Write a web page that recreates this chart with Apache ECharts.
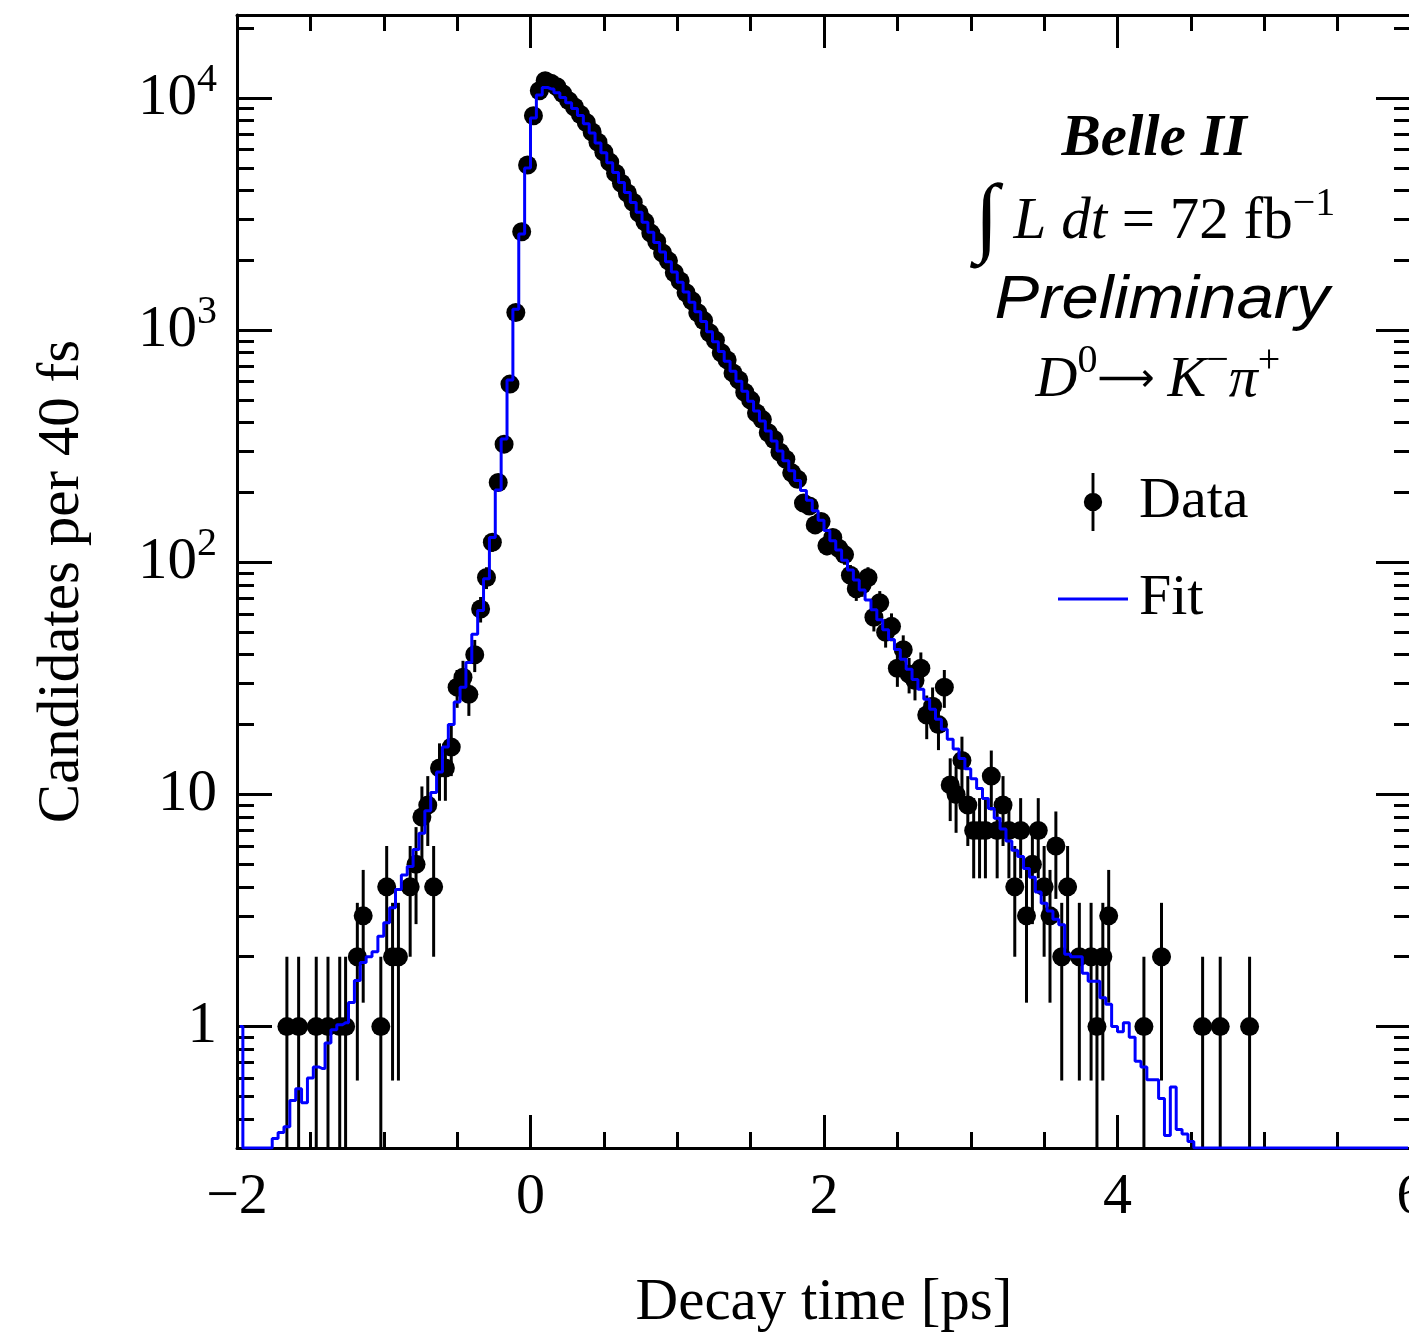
<!DOCTYPE html>
<html><head><meta charset="utf-8">
<script src="https://cdn.jsdelivr.net/npm/echarts@6/dist/echarts.min.js"></script>
<style>html,body{margin:0;padding:0;background:#fff;overflow:hidden;width:1409px;height:1337px}#chart{width:1440px;height:1337px}</style>
</head><body><div id="chart"></div>
<script>
// ---- binning (40 fs bins from -2 ps to 6 ps) ----
const binStart = -2;
const binWidth = 0.04;

// ---- data: candidates per bin ----
const counts = [
  0,0,0,0,0,0,0,0,1,0,
  1,0,0,1,0,1,0,1,1,0,
  2,3,0,0,1,4,2,2,0,4,
  5,8,9,4,13,13,16,29,32,27,
  40,63,86,122,221,323,586,1192,2654,5145,
  8390,10750,11870,11600,11200,10450,9750,9150,8500,7850,
  7150,6450,5850,5300,4750,4300,3900,3560,3200,2930,
  2620,2410,2150,1990,1770,1630,1450,1340,1190,1100,
  975,905,800,745,655,610,540,500,440,412,
  362,338,298,278,243,228,180,175,145,150,
  118,128,115,108,88,77,80,86,58,67,
  50,53,35,42,33,31,35,22,24,20,
  29,11,10,14,9,7,7,7,12,7,
  9,7,4,7,3,5,7,4,3,6,
  2,4,0,2,0,2,1,2,3,0,
  0,0,0,0,1,0,0,2,0,0,
  0,0,0,0,1,0,0,1,0,0,
  0,0,1,0,0,0,0,0,0,0,
  0,0,0,0,0,0,0,0,0,0,
  0,0,0,0,0,0,0,0,0,0
];

// ---- fit: expected candidates per bin ----
const fitValues = [
  1.0,0.3,0.3,0.3,0.3,0.3,0.33,0.35,0.37,0.48,
  0.54,0.47,0.6,0.67,0.66,0.85,0.97,1.02,1.04,1.27,
  1.58,1.89,2.0,2.1,2.45,2.8,3.25,3.9,4.5,4.9,
  5.8,6.8,8.5,10.2,12.5,16,20,25,29,37,
  49,62,85,128,205,340,610,1230,2600,5000,
  8200,10300,11100,10950,10550,10050,9550,9020,8410,7760,
  7080,6410,5810,5270,4780,4330,3920,3550,3220,2920,
  2640,2390,2170,1970,1780,1610,1460,1320,1200,1090,
  986,893,809,735,665,603,546,494,449,406,
  368,333,302,274,248,225,204,185,167,152,
  137,124,113,102,92.7,84,76,68.9,62.5,56.6,
  51.3,46.5,42.1,38.2,34.6,31.3,28.4,25.7,23.3,21.1,
  19.1,17.3,15.7,14.3,12.9,11.7,10.6,9.6,8.7,7.9,
  7.1,6.3,5.75,5.4,4.8,4.4,3.8,3.4,3.15,2.9,
  2.75,2.05,2.0,2.0,1.7,1.57,1.57,1.33,1.25,1.0,
  0.95,1.04,0.9,0.71,0.67,0.59,0.59,0.49,0.34,0.55,
  0.36,0.345,0.32,0.3,0.3,0.3,0.3,0.3,0.3,0.3,
  0.3,0.3,0.3,0.3,0.3,0.3,0.3,0.3,0.3,0.3,
  0.3,0.3,0.3,0.3,0.3,0.3,0.3,0.3,0.3,0.3,
  0.3,0.3,0.3,0.3,0.3,0.3,0.3,0.3,0.3,0.3
];

// ---- axes ----
const xMin = -2, xMax = 6, xMajorStep = 2;
const yMin = 0.3, yMax = 22800;
const yMajorTicks = [1, 10, 100, 1000, 10000];
const yMinorTicks = [0.4,0.5,0.6,0.7,0.8,0.9, 2,3,4,5,6,7,8,9, 20,30,40,50,60,70,80,90,
  200,300,400,500,600,700,800,900, 2000,3000,4000,5000,6000,7000,8000,9000, 20000];

const serif = "'Liberation Serif','Times New Roman',serif";
const sans = "'Liberation Sans',Arial,sans-serif";
const black = '#000';
const axisLine = {color: black, width: 3};

const binCenter = i => +(binStart + binWidth * (i + 0.5)).toFixed(3);
const dataPoints = counts.map((n, i) => [binCenter(i), n]).filter(d => d[1] > 0);
const fitPoints = fitValues.map((f, i) => [binCenter(i), f]);

function xLabel(v) { return v < 0 ? '\u2212' + (-v) : String(v); }
function yLabel(v) {
  const e = Math.round(Math.log10(v));
  if (e === 0) return '1';
  if (e === 1) return '10';
  return '{b|10}{s|' + e + '}';
}

const xBase = {
  type: 'value', min: xMin, max: xMax, interval: xMajorStep,
  axisLine: {show: true, onZero: false, lineStyle: axisLine},
  axisTick: {show: true, inside: true, length: 33, lineStyle: axisLine},
  minorTick: {show: true, splitNumber: 4, length: 16, lineStyle: axisLine},
  splitLine: {show: false}, minorSplitLine: {show: false}
};
const yBase = {
  type: 'log', min: yMin, max: yMax,
  splitLine: {show: false}, minorTick: {show: false}, minorSplitLine: {show: false}
};

const chart = echarts.init(document.getElementById('chart'));
chart.setOption({
  animation: false,
  backgroundColor: '#fff',
  textStyle: {fontFamily: serif},
  grid: {left: 237, right: 29, top: 15, bottom: 189, containLabel: false, outerBoundsMode: 'none'},
  xAxis: [
    Object.assign({}, xBase, {
      position: 'bottom',
      axisLabel: {show: true, margin: 21, fontFamily: serif, fontSize: 58, color: black, formatter: xLabel},
      name: 'Decay time [ps]', nameLocation: 'middle', nameGap: 126,
      nameTextStyle: {fontFamily: serif, fontSize: 59, color: black}
    }),
    Object.assign({}, xBase, {position: 'top', axisLabel: {show: false}})
  ],
  yAxis: [
    Object.assign({}, yBase, {
      position: 'left',
      axisLine: {show: true, onZero: false, lineStyle: axisLine},
      axisTick: {show: true, inside: true, length: 35, customValues: yMajorTicks, lineStyle: axisLine},
      axisLabel: {show: true, customValues: yMajorTicks, margin: 20, formatter: yLabel,
        fontFamily: serif, fontSize: 59, color: black,
        rich: {
          b: {fontFamily: serif, fontSize: 59, color: black},
          s: {fontFamily: serif, fontSize: 40, color: black, padding: [0, 0, 36, 0]}
        }},
      name: 'Candidates per 40 fs', nameLocation: 'middle', nameGap: 145,
      nameTextStyle: {fontFamily: serif, fontSize: 59, color: black}
    }),
    Object.assign({}, yBase, {
      position: 'left',
      axisLine: {show: false, onZero: false},
      axisTick: {show: true, inside: true, length: 17, customValues: yMinorTicks, lineStyle: axisLine},
      axisLabel: {show: false}
    }),
    Object.assign({}, yBase, {
      position: 'right',
      axisLine: {show: true, onZero: false, lineStyle: axisLine},
      axisTick: {show: true, inside: true, length: 35, customValues: yMajorTicks, lineStyle: axisLine},
      axisLabel: {show: false}
    }),
    Object.assign({}, yBase, {
      position: 'right',
      axisLine: {show: false, onZero: false},
      axisTick: {show: true, inside: true, length: 17, customValues: yMinorTicks, lineStyle: axisLine},
      axisLabel: {show: false}
    })
  ],
  legend: {
    orient: 'vertical', left: 1053, top: 468,
    itemWidth: 70, itemHeight: 58, itemGap: 39,
    selectedMode: false,
    textStyle: {fontFamily: serif, fontSize: 58, color: black, lineHeight: 58, padding: [0, 0, 0, 6]},
    data: [
      {name: 'Data', icon: 'path://M-1.5,-30h3v60h-3z M-9.5,0a9.5,9.5 0 1,1 19,0a9.5,9.5 0 1,1 -19,0z'},
      {name: 'Fit', icon: 'path://M0,0h70v3h-70z'}
    ]
  },
  graphic: [
    {type: 'text', x: 1154, y: 140, style: {text: 'Belle II', fontFamily: serif, fontSize: 59, fontStyle: 'italic', fontWeight: 'bold',
      fill: black, align: 'center', verticalAlign: 'middle', textAlign: 'center', textVerticalAlign: 'middle'}},
    {type: 'text', x: 1155, y: 222, style: {
      text: '{i|\u222B}{a| L dt}{n| = 72 fb}{s|\u22121}',
      align: 'center', verticalAlign: 'middle', textAlign: 'center', textVerticalAlign: 'middle',
      rich: {
        i: {fontFamily: serif, fontSize: 88, fill: black},
        a: {fontFamily: serif, fontSize: 59, fontStyle: 'italic', fill: black},
        n: {fontFamily: serif, fontSize: 59, fill: black},
        s: {fontFamily: serif, fontSize: 40, fill: black, padding: [0, 0, 36, 0]}
      }}},
    {type: 'text', x: 1162, y: 301, scaleX: 1.08, style: {text: 'Preliminary', fontFamily: sans, fontSize: 62, fontStyle: 'italic',
      fill: black, align: 'center', verticalAlign: 'middle', textAlign: 'center', textVerticalAlign: 'middle'}},
    {type: 'text', x: 1158, y: 381, style: {
      text: '{a|D}{s|0}{r|\u27F6 }{a|K}{s|\u2212}{a|\u03C0}{s|+}',
      align: 'center', verticalAlign: 'middle', textAlign: 'center', textVerticalAlign: 'middle',
      rich: {
        a: {fontFamily: serif, fontSize: 58, fontStyle: 'italic', fill: black},
        r: {fontFamily: "'DejaVu Sans',sans-serif", fontSize: 40, fill: black},
        s: {fontFamily: serif, fontSize: 40, fill: black, padding: [0, 0, 40, 0]}
      }}}
  ],
  series: [
    {
      name: 'Data', type: 'custom', xAxisIndex: 0, yAxisIndex: 0, z: 3,
      itemStyle: {color: black},
      encode: {x: 0, y: 1},
      data: dataPoints,
      renderItem: function (params, api) {
        const t = api.value(0), n = api.value(1);
        const err = Math.sqrt(n);
        const c = api.coord([t, n]);
        const hi = api.coord([t, Math.min(n + err, yMax)]);
        const lo = api.coord([t, Math.max(n - err, yMin)]);
        return {type: 'group', children: [
          {type: 'line', shape: {x1: c[0], y1: hi[1], x2: c[0], y2: lo[1]}, style: {stroke: black, lineWidth: 3}},
          {type: 'circle', shape: {cx: c[0], cy: c[1], r: 9.5}, style: {fill: black}}
        ]};
      }
    },
    {
      name: 'Fit', type: 'line', xAxisIndex: 0, yAxisIndex: 0, z: 4,
      step: 'middle', symbol: 'none', clip: true,
      color: '#0000ff',
      lineStyle: {color: '#0000ff', width: 3},
      data: fitPoints
    }
  ]
});
</script>
</body></html>
